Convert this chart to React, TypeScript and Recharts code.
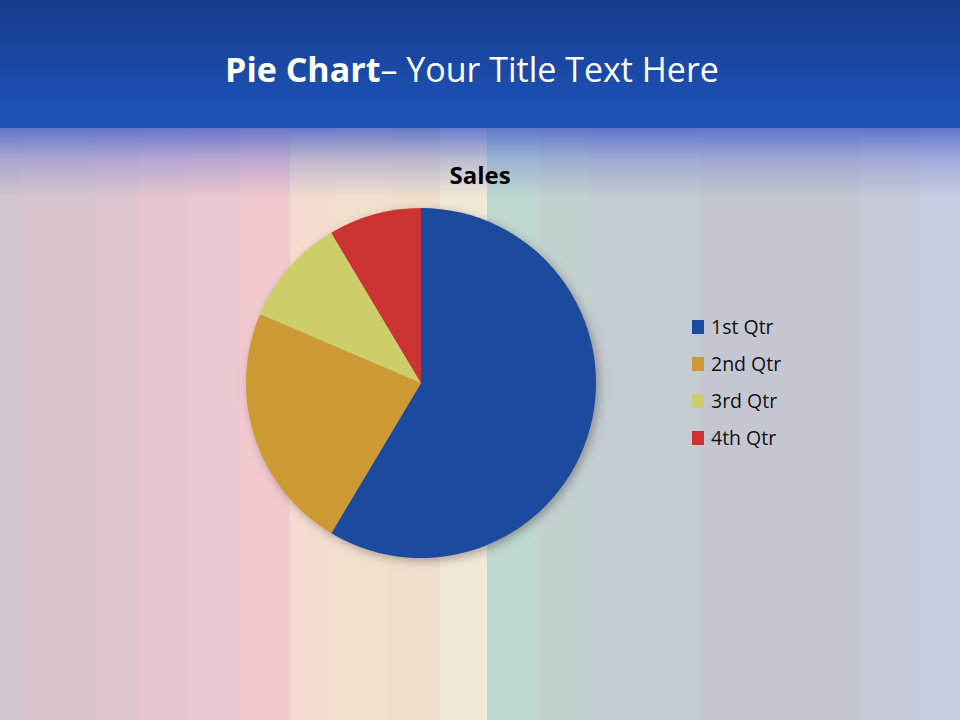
import React from "react";
import { PieChart, Pie, Cell, Legend } from "recharts";

const categories = ["1st Qtr", "2nd Qtr", "3rd Qtr", "4th Qtr"];
const salesValues = [8.2, 3.2, 1.4, 1.2];
const sliceColors = ["#1b4a9f", "#cd9933", "#cdcd69", "#cc3333"];
const chartTitle = "Sales";

const stripes: [number, number, string][] = [
  [0, 20, "#d3c5d0"],
  [20, 95, "#d8c5d0"],
  [95, 140, "#dfc5d0"],
  [140, 190, "#e6c6d0"],
  [190, 240, "#ebc7d0"],
  [240, 290, "#f1c9cf"],
  [290, 335, "#f4dccf"],
  [335, 390, "#f2dfcd"],
  [390, 440, "#efdfcb"],
  [440, 487, "#f1e8d6"],
  [487, 540, "#bfd8d0"],
  [540, 590, "#c3d0d0"],
  [590, 700, "#c4cbd1"],
  [700, 860, "#c4c7d1"],
  [860, 920, "#c7cad9"],
  [920, 960, "#c8cde2"],
];

const data = categories.map((name, i) => ({ name, value: salesValues[i] }));
const shadowData = [{ name: "shadow", value: 1 }];

const LegendContent = (props: any) => {
  const payload = (props.payload || []).filter((p: any) => categories.includes(p.value));
  return (
    <div style={{ fontFamily: "'Open Sans', 'Noto Sans', sans-serif", fontSize: 19.5, color: "#111" }}>
      {payload.map((p: any, i: number) => (
        <div key={i} style={{ display: "flex", alignItems: "center", height: 37 }}>
          <span style={{ display: "inline-block", width: 12, height: 14, background: p.color, marginRight: 7 }} />
          <span>{p.value}</span>
        </div>
      ))}
    </div>
  );
};

export default function App() {
  return (
    <div style={{ position: "absolute", left: 0, top: 0, width: 960, height: 720, overflow: "hidden" }}>
      <style>{`.pie-shadow { filter: blur(3px); }`}</style>
      {stripes.map(([x0, x1, c], i) => (
        <div key={i} style={{ position: "absolute", left: x0, top: 0, width: x1 - x0, height: 720, background: c }} />
      ))}
      <div
        style={{
          position: "absolute", left: 0, top: 128, width: 960, height: 70,
          background: "linear-gradient(to bottom, rgba(60,90,200,0.75) 0%, rgba(90,110,210,0.35) 45%, rgba(120,130,210,0) 100%)",
        }}
      />
      <div
        style={{
          position: "absolute", left: 0, top: 0, width: 960, height: 128,
          background: "linear-gradient(to bottom, #163c8d 0%, #1d52b5 85%, #1e55b9 100%)",
        }}
      />
      <div
        style={{
          position: "absolute", left: 0, top: 46, width: 944, textAlign: "center",
          fontFamily: "'Open Sans', 'Noto Sans', sans-serif", fontSize: 34, color: "#fff",
        }}
      >
        <span style={{ fontWeight: 700 }}>Pie Chart</span>– Your Title Text Here
      </div>
      <div
        style={{
          position: "absolute", left: 0, top: 158, width: 960, textAlign: "center",
          fontFamily: "'Open Sans', 'Noto Sans', sans-serif", fontSize: 24, fontWeight: 700, color: "#000",
        }}
      >
        {chartTitle}
      </div>
      <div style={{ position: "absolute", left: 0, top: 0 }}>
        <PieChart width={960} height={720} margin={{ top: 0, right: 0, bottom: 0, left: 0 }}>
          <Pie
            data={shadowData}
            dataKey="value"
            cx={424}
            cy={386}
            outerRadius={175}
            startAngle={90}
            endAngle={-270}
            stroke="none"
            fill="rgba(60,50,60,0.4)"
            className="pie-shadow"
            isAnimationActive={false}
            legendType="none"
          />
          <Pie
            data={data}
            dataKey="value"
            nameKey="name"
            cx={421}
            cy={383}
            outerRadius={175}
            startAngle={90}
            endAngle={-270}
            stroke="none"
            isAnimationActive={false}
          >
            {data.map((d, i) => (
              <Cell key={d.name} fill={sliceColors[i]} />
            ))}
          </Pie>
          <Legend
            layout="vertical"
            content={<LegendContent />}
            wrapperStyle={{ position: "absolute", left: 692, top: 308, width: 160 }}
          />
        </PieChart>
      </div>
    </div>
  );
}
